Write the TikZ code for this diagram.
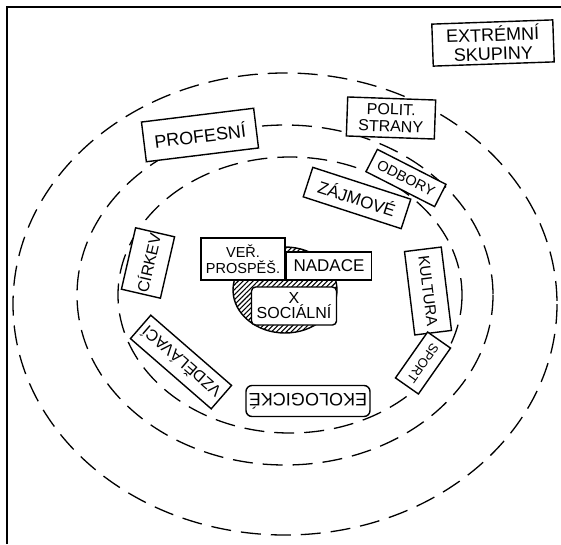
\documentclass[tikz,border=0pt]{standalone}
\usepackage{fontspec}
\setmainfont{Liberation Sans}
\usetikzlibrary{patterns.meta}
\newcommand{\myfs}[2]{\fontsize{#1pt}{#2pt}\selectfont}
\tikzset{
  box/.style={draw, line width=1.4pt, fill=white, inner sep=1pt, align=center},
  ring/.style={line width=1.3pt, dash pattern=on 20pt off 10pt},
}
\begin{document}
\begin{tikzpicture}[x=1pt,y=-1pt]
\useasboundingbox (0,0) rectangle (561,544);
% frame (left and top edges visible)
\draw[line width=1.4pt] (7,544) -- (7,7) -- (561,7);

% dashed rings
\draw[ring] (285,304) ellipse [x radius=272, y radius=231];
\draw[ring] (285,295) ellipse [x radius=208, y radius=170];
\draw[ring] (290,295) ellipse [x radius=172, y radius=138];

% hatched core
\draw[line width=1.4pt, pattern={Lines[angle=45, distance=3.5pt, line width=1.1pt]}] (285,290) ellipse [x radius=52, y radius=43];

% boxes
\node[box, minimum width=121pt, minimum height=42pt, rotate=2, font=\myfs{18}{19}] (extr) at (493,43) {EXTRÉMNÍ\\SKUPINY};
\node[box, minimum width=88pt, minimum height=39pt, rotate=-2, font=\myfs{16}{17}] (polit) at (391,118) {POLIT.\\STRANY};
\node[box, minimum width=113pt, minimum height=40pt, rotate=7, font=\myfs{18}{18}] (prof) at (200,135) {PROFESNÍ};
\node[box, minimum width=77pt, minimum height=25pt, rotate=-27, font=\myfs{14.5}{15}] (odb) at (406,178) {ODBORY};
\node[box, minimum width=103pt, minimum height=31pt, rotate=-18, font=\myfs{17}{17}] (zaj) at (357,198) {ZÁJMOVÉ};
\node[box, minimum width=63pt, minimum height=40pt, rotate=77, font=\myfs{16}{16}] (cirk) at (148,263) {CÍRKEV};
\node[box, minimum width=84pt, minimum height=42pt, font=\myfs{14.5}{16}] (ver) at (243,259) {VEŘ.\\PROSPĚŠ.};
\node[box, minimum width=85pt, minimum height=28pt, font=\myfs{17}{17}] (nad) at (329,266) {NADACE};
\node[box, minimum width=85pt, minimum height=38pt, rounded corners=4pt, font=\myfs{16}{15}] (soc) at (294,306) {X\\SOCIÁLNÍ};
\node[box, minimum width=84pt, minimum height=37pt, rotate=-83, font=\myfs{15.5}{16}] (kult) at (428,291) {KULTURA};
\node[box, minimum width=56pt, minimum height=28pt, rotate=-125, font=\myfs{13}{13}] (sport) at (423,363) {SPORT};
\node[box, minimum width=124pt, minimum height=31pt, rotate=180, rounded corners=6pt, font=\myfs{18}{18}] (eko) at (308,401) {EKOLOGICKÉ};
\node[box, minimum width=107pt, minimum height=31pt, rotate=139, font=\myfs{16}{16}] (vzd) at (181,362) {VZDĚLÁVACÍ};
\end{tikzpicture}
\end{document}
